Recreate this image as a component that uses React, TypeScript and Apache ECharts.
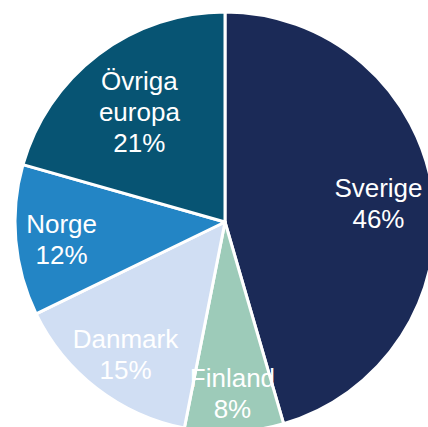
import React, { useEffect, useRef } from "react";
import * as echarts from "echarts";

const categories = ["Sverige", "Finland", "Danmark", "Norge", "Övriga\neuropa"];
const values = [45.5, 7.6, 14.7, 11.6, 20.6];
const colors = ["#1B2A57", "#9DCBB9", "#D0DEF3", "#2385C5", "#075473"];
const labelRadii = [152, 166, 160, 161, 139];

export default function App() {
  const ref = useRef<HTMLDivElement>(null);
  useEffect(() => {
    if (!ref.current) return;
    const chart = echarts.init(ref.current, null, { renderer: "svg" });
    const radius = 210;
    const total = values.reduce((a, b) => a + b, 0);
    let cum = 0;
    const data = values.map((v, i) => {
      const mid = ((cum + v / 2) / total) * Math.PI * 2;
      cum += v;
      const extra = labelRadii[i] - radius / 2;
      return {
        name: categories[i],
        value: v,
        itemStyle: { color: colors[i] },
        label: { offset: [extra * Math.sin(mid), -extra * Math.cos(mid) + 3] },
      };
    });
    chart.setOption({
      animation: false,
      backgroundColor: "#ffffff",
      series: [
        {
          type: "pie",
          center: [225, 222],
          radius: [0, radius],
          startAngle: 90,
          clockwise: true,
          avoidLabelOverlap: false,
          data,
          itemStyle: { borderColor: "#ffffff", borderWidth: 3 },
          label: {
            show: true,
            position: "inside",
            color: "#ffffff",
            fontFamily: "Liberation Sans, Arial, sans-serif",
            fontSize: 26,
            lineHeight: 31,
            align: "center",
            formatter: (p: any) => `${p.name}\n${Math.round(p.percent)}%`,
          },
          labelLine: { show: false },
          emphasis: { disabled: true },
        },
      ],
    });
    return () => chart.dispose();
  }, []);
  return (
    <div
      ref={ref}
      style={{ position: "fixed", left: 0, top: 0, width: 428, height: 427 }}
    />
  );
}
